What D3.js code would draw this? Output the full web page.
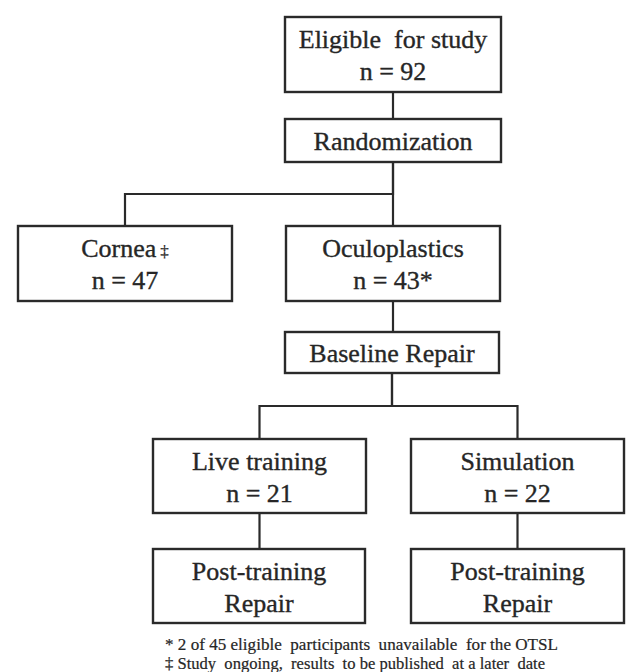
<!DOCTYPE html>
<html><head><meta charset="utf-8">
<script src="https://cdn.jsdelivr.net/npm/d3@7"></script>
<style>body{margin:0;background:#fff}svg{display:block}</style>
</head><body>
<svg id="c" width="626" height="672"></svg>
<script>
// Data
const nodeIds = ["eligible","random","cornea","oculo","baseline","live","sim","post1","post2"];
const line1 = ["Eligible  for study","Randomization","Cornea","Oculoplastics","Baseline Repair","Live training","Simulation","Post-training","Post-training"];
const line2 = ["n = 92",null,"n = 47","n = 43*",null,"n = 21","n = 22","Repair","Repair"];
const marks = [null,null,"‡",null,null,null,null,null,null];
const links = [["eligible","random"],["random","cornea"],["random","oculo"],["oculo","baseline"],["baseline","live"],["baseline","sim"],["live","post1"],["sim","post2"]];
const footnotes = ["* 2 of 45 eligible  participants  unavailable  for the OTSL","‡ Study  ongoing,  results  to be published  at a later  date"];

// Layout (boxes in px)
const layout = {
  eligible:[285,17,501,92], random:[285,119,501,162],
  cornea:[18,226,232,301], oculo:[286,226,500,301],
  baseline:[285,332,499,373],
  live:[153,439,366,513], sim:[411,439,624,513],
  post1:[153,549,365,623], post2:[411,549,624,623]
};
const branchY = {random:194, baseline:406};
const footLen = [393, 380];

const svg = d3.select("#c");
const stroke = "#2a2a2a";
const font = "'Liberation Serif','Times New Roman',serif";

// links
const g = svg.append("g").attr("fill","none").attr("stroke",stroke).attr("stroke-width",2.2);
links.forEach(([s,t])=>{
  const a = layout[s], b = layout[t];
  const sx = (a[0]+a[2])/2, tx = (b[0]+b[2])/2;
  const by = branchY[s];
  let p = d3.path();
  if (by !== undefined) {
    p.moveTo(sx, a[3]); p.lineTo(sx, by); p.lineTo(tx, by); p.lineTo(tx, b[1]);
  } else {
    p.moveTo(sx, a[3]); p.lineTo(sx, b[1]);
  }
  g.append("path").attr("d", p.toString()).attr("stroke-linecap","square");
});

function txt(){
  return svg.append("text").attr("font-family",font).attr("font-size",26).attr("fill","#262626")
    .attr("stroke","#262626").attr("stroke-width",0.35).attr("text-anchor","middle").style("white-space","pre");
}

// boxes
nodeIds.forEach((id,i)=>{
  const [x0,y0,x1,y1] = layout[id];
  svg.append("rect").attr("x",x0).attr("y",y0).attr("width",x1-x0).attr("height",y1-y0)
    .attr("fill","#fff").attr("stroke",stroke).attr("stroke-width",2.4);
  const cx = (x0+x1)/2, cy = (y0+y1)/2;
  if (line2[i]) {
    const t = txt().attr("x",cx).attr("y", cy - 6.5);
    t.append("tspan").text(line1[i]);
    if (marks[i]) t.append("tspan").attr("font-size",17).attr("dx",4).attr("stroke-width",0.2).text(marks[i]);
    txt().attr("x",cx).attr("y",cy + 25.5).text(line2[i]);
  } else {
    txt().attr("x",cx).attr("y",cy + 9).text(line1[i]);
  }
});

// footnotes
footnotes.forEach((f,i)=>{
  svg.append("text").attr("font-family",font).attr("font-size",16.5).attr("fill","#262626")
    .attr("stroke","#262626").attr("stroke-width",0.2)
    .style("white-space","pre").attr("x",165).attr("y",650 + i*18.5)
    .attr("textLength",footLen[i]).attr("lengthAdjust","spacingAndGlyphs").text(f);
});
</script>
</body></html>
